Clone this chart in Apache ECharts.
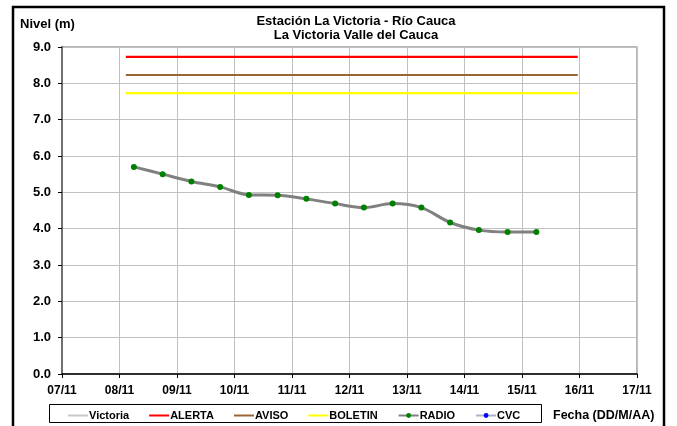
<!DOCTYPE html>
<html>
<head>
<meta charset="utf-8">
<script src="https://cdn.jsdelivr.net/npm/echarts@6/dist/echarts.min.js"></script>
<style>
  html, body { margin: 0; padding: 0; background: #fff; }
  #chart { width: 677px; height: 426px; }
</style>
</head>
<body>
<div id="chart"></div>
<script>
// dias desde 07/11 00:00
const xTickLabels = ['07/11', '08/11', '09/11', '10/11', '11/11', '12/11', '13/11', '14/11', '15/11', '16/11', '17/11'];
const yTickLabels = ['0.0', '1.0', '2.0', '3.0', '4.0', '5.0', '6.0', '7.0', '8.0', '9.0'];

const radioDays = [1.25, 1.75, 2.25, 2.75, 3.25, 3.75, 4.25, 4.75, 5.25, 5.75, 6.25, 6.75, 7.25, 7.75, 8.25];
const radioLevels = [5.70, 5.50, 5.30, 5.15, 4.93, 4.92, 4.82, 4.69, 4.58, 4.69, 4.58, 4.17, 3.96, 3.91, 3.91];

const umbralDays = [1.11, 8.97];
const alertaLevel = 8.73;
const avisoLevel = 8.23;
const boletinLevel = 7.73;

const font = 'Arial, "Liberation Sans", sans-serif';
const lineIcon = 'path://M0,0H20V2H0Z';

const chart = echarts.init(document.getElementById('chart'));

const umbral = (name, level, color) => ({
  name: name,
  type: 'line',
  symbol: 'none',
  silent: true,
  data: umbralDays.map(d => [d, level]),
  lineStyle: { color: color, width: 2.2 },
  itemStyle: { color: color }
});

chart.setOption({
  animation: false,
  backgroundColor: '#fff',
  title: {
    text: 'Estación La Victoria - Río Cauca\nLa Victoria Valle del Cauca',
    left: 351,
    top: 9,
    textAlign: 'center',
    textStyle: { fontFamily: font, fontSize: 13, fontWeight: 'bold', color: '#000', lineHeight: 14 }
  },
  grid: {
    left: 62, right: 40, top: 47, bottom: 52,
    show: true,
    borderColor: '#a0a0a0',
    borderWidth: 1.5
  },
  legend: {
    left: 68,
    top: 410,
    itemWidth: 20,
    itemHeight: 6,
    itemGap: 20,
    padding: 0,
    textStyle: { fontFamily: font, fontSize: 11, fontWeight: 'bold', color: '#000', padding: [0, 0, 0, -4] },
    data: [
      { name: 'Victoria', icon: lineIcon },
      { name: 'ALERTA', icon: lineIcon },
      { name: 'AVISO', icon: lineIcon },
      { name: 'BOLETIN', icon: lineIcon },
      { name: 'RADIO' },
      { name: 'CVC' }
    ]
  },
  xAxis: {
    type: 'value',
    min: 0,
    max: 10,
    interval: 1,
    axisLine: { show: true, onZero: false, lineStyle: { color: '#000', width: 1.5 } },
    axisTick: { show: true, length: 4, lineStyle: { color: '#000' } },
    axisLabel: {
      margin: 11,
      fontFamily: font, fontSize: 12, fontWeight: 'bold', color: '#000',
      formatter: v => xTickLabels[Math.round(v)]
    },
    splitLine: { show: true, lineStyle: { color: '#c0c0c0', width: 1 } }
  },
  yAxis: {
    type: 'value',
    min: 0,
    max: 9,
    interval: 1,
    axisLine: { show: true, lineStyle: { color: '#707070', width: 2 } },
    axisTick: { show: true, length: 4, lineStyle: { color: '#000' } },
    axisLabel: {
      margin: 11,
      fontFamily: font, fontSize: 13, fontWeight: 'bold', color: '#000',
      formatter: v => yTickLabels[Math.round(v)]
    },
    splitLine: { show: true, lineStyle: { color: '#c0c0c0', width: 1 } }
  },
  graphic: [
    { type: 'rect', shape: { x: 13, y: 7, width: 651, height: 440 }, style: { fill: 'none', stroke: '#000', lineWidth: 2.5 }, silent: true },
    { type: 'rect', shape: { x: 49.5, y: 404.5, width: 492, height: 18 }, style: { fill: 'none', stroke: '#000', lineWidth: 1 }, silent: true, z: 10 },
    { type: 'text', left: 20, top: 18, style: { text: 'Nivel (m)', font: 'bold 13px ' + font, fill: '#000' } },
    { type: 'text', left: 553, top: 409, style: { text: 'Fecha (DD/M/AA)', font: 'bold 12.5px ' + font, fill: '#000' } }
  ],
  series: [
    {
      name: 'Victoria',
      type: 'line',
      symbol: 'none',
      data: [],
      lineStyle: { color: '#c8c8c8', width: 2.5 },
      itemStyle: { color: '#c8c8c8' }
    },
    umbral('ALERTA', alertaLevel, '#ff0000'),
    umbral('AVISO', avisoLevel, '#996633'),
    umbral('BOLETIN', boletinLevel, '#ffff00'),
    {
      name: 'RADIO',
      type: 'line',
      smooth: 0.35,
      symbol: 'circle',
      symbolSize: 6,
      data: radioDays.map((d, i) => [d, radioLevels[i]]),
      lineStyle: { color: '#808080', width: 3 },
      itemStyle: { color: '#008000' },
      z: 5
    },
    {
      name: 'CVC',
      type: 'line',
      symbol: 'circle',
      symbolSize: 4,
      data: [],
      lineStyle: { color: '#b0b0c8', width: 2 },
      itemStyle: { color: '#0000ff' }
    }
  ]
});
</script>
</body>
</html>
